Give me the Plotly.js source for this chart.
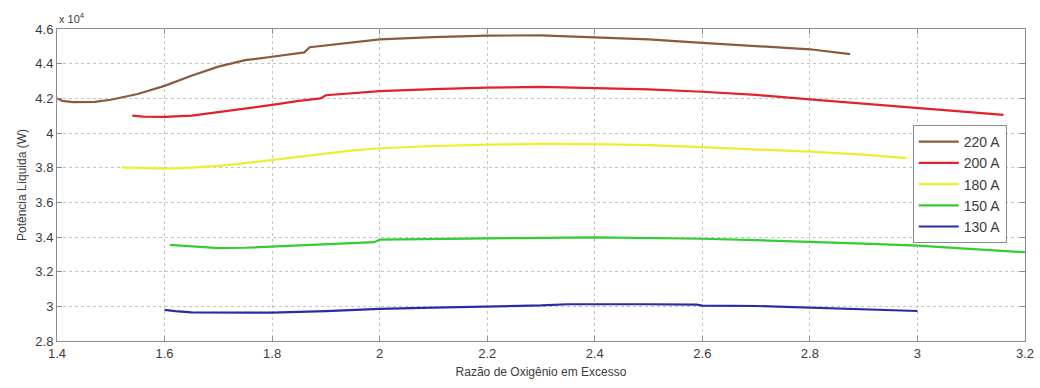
<!DOCTYPE html>
<html>
<head>
<meta charset="utf-8">
<script src="https://cdn.plot.ly/plotly-3.0.1.min.js"></script>
<style>
  html, body { margin: 0; padding: 0; background: #ffffff; }
  #chart { width: 1040px; height: 388px; }
</style>
</head>
<body>
<div id="chart"></div>
<script>
// Potência líquida em unidades de x10^4 W
const x220 = [1.40, 1.41, 1.43, 1.47, 1.50, 1.55, 1.60, 1.65, 1.70, 1.75, 1.80, 1.86, 1.87, 1.90, 1.95, 2.00, 2.10, 2.20, 2.30, 2.40, 2.50, 2.60, 2.70, 2.80, 2.875];
const y220 = [4.200, 4.185, 4.178, 4.180, 4.192, 4.225, 4.272, 4.330, 4.383, 4.420, 4.440, 4.465, 4.495, 4.505, 4.525, 4.540, 4.553, 4.562, 4.563, 4.552, 4.540, 4.520, 4.503, 4.483, 4.455];

const x200 = [1.54, 1.56, 1.60, 1.65, 1.70, 1.75, 1.80, 1.85, 1.89, 1.90, 1.95, 2.00, 2.10, 2.20, 2.30, 2.40, 2.50, 2.60, 2.70, 2.80, 2.90, 3.00, 3.10, 3.16];
const y200 = [4.100, 4.095, 4.093, 4.100, 4.120, 4.140, 4.162, 4.185, 4.200, 4.218, 4.232, 4.242, 4.253, 4.262, 4.266, 4.258, 4.252, 4.238, 4.220, 4.194, 4.170, 4.143, 4.120, 4.104];

const x180 = [1.52, 1.55, 1.60, 1.65, 1.70, 1.75, 1.80, 1.85, 1.90, 1.95, 2.00, 2.10, 2.20, 2.30, 2.40, 2.50, 2.60, 2.70, 2.80, 2.90, 2.98];
const y180 = [3.802, 3.798, 3.794, 3.800, 3.810, 3.826, 3.844, 3.862, 3.882, 3.900, 3.912, 3.925, 3.933, 3.937, 3.936, 3.930, 3.918, 3.906, 3.892, 3.875, 3.855];

const x150 = [1.61, 1.65, 1.70, 1.75, 1.80, 1.90, 1.99, 2.00, 2.10, 2.20, 2.30, 2.40, 2.50, 2.60, 2.70, 2.80, 2.90, 3.00, 3.10, 3.20];
const y150 = [3.354, 3.345, 3.336, 3.338, 3.344, 3.355, 3.370, 3.385, 3.387, 3.390, 3.395, 3.398, 3.395, 3.390, 3.382, 3.373, 3.362, 3.350, 3.332, 3.312];

const x130 = [1.60, 1.62, 1.65, 1.70, 1.80, 1.90, 2.00, 2.10, 2.20, 2.30, 2.35, 2.40, 2.50, 2.59, 2.60, 2.70, 2.80, 2.90, 3.00];
const y130 = [2.980, 2.972, 2.965, 2.964, 2.964, 2.972, 2.985, 2.993, 2.998, 3.005, 3.012, 3.013, 3.012, 3.010, 3.004, 3.002, 2.993, 2.985, 2.973];

const seriesNames = ['220 A', '200 A', '180 A', '150 A', '130 A'];
const seriesColors = ['#8a5a3e', '#e3212b', '#eeee2c', '#33cc33', '#2b2ba6'];
const xs = [x220, x200, x180, x150, x130];
const ys = [y220, y200, y180, y150, y130];

const xTicks = [1.4, 1.6, 1.8, 2.0, 2.2, 2.4, 2.6, 2.8, 3.0, 3.2];
const xTickLabels = ['1.4', '1.6', '1.8', '2', '2.2', '2.4', '2.6', '2.8', '3', '3.2'];
const yTicks = [2.8, 3.0, 3.2, 3.4, 3.6, 3.8, 4.0, 4.2, 4.4, 4.6];
const yTickLabels = ['2.8', '3', '3.2', '3.4', '3.6', '3.8', '4', '4.2', '4.4', '4.6'];

const traces = seriesNames.map((n, i) => ({
  x: xs[i], y: ys[i], name: n, type: 'scatter', mode: 'lines',
  line: { color: seriesColors[i], width: 2.2 }
}));

const fontFam = 'Liberation Sans, Arial, sans-serif';
const axisCommon = {
  showline: true, linecolor: '#8c8c8c', linewidth: 1, mirror: 'allticks',
  ticks: 'inside', ticklen: 5, tickcolor: '#8c8c8c', tickwidth: 1,
  showgrid: true, gridcolor: '#c4c4c4', griddash: 'dot', gridwidth: 1,
  zeroline: false, tickfont: { family: fontFam, size: 13, color: '#3c3c3c' }
};

const layout = {
  width: 1040, height: 388,
  margin: { l: 57, r: 15, t: 29, b: 47 },
  paper_bgcolor: '#ffffff', plot_bgcolor: '#ffffff',
  showlegend: true,
  xaxis: Object.assign({}, axisCommon, {
    range: [1.4, 3.2], tickvals: xTicks, ticktext: xTickLabels,
    title: { text: 'Razão de Oxigênio em Excesso', font: { family: fontFam, size: 12, color: '#3c3c3c' }, standoff: 8 }
  }),
  yaxis: Object.assign({}, axisCommon, {
    range: [2.8, 4.6], tickvals: yTicks, ticktext: yTickLabels,
    title: { text: 'Potência Líquida (W)', font: { family: fontFam, size: 12, color: '#3c3c3c' }, standoff: 6 }
  }),
  legend: {
    x: 0.884, y: 0.692, xanchor: 'left', yanchor: 'top',
    bgcolor: '#ffffff', bordercolor: '#8c8c8c', borderwidth: 1,
    font: { family: fontFam, size: 14, color: '#3c3c3c' },
    itemwidth: 40
  },
  annotations: [{
    xref: 'paper', yref: 'paper', x: 0, y: 1, xanchor: 'left', yanchor: 'bottom',
    text: 'x 10<sup>4</sup>', showarrow: false, yshift: 2,
    font: { family: fontFam, size: 11, color: '#3c3c3c' }
  }]
};

Plotly.newPlot('chart', traces, layout, { displayModeBar: false, staticPlot: true });
</script>
</body>
</html>
